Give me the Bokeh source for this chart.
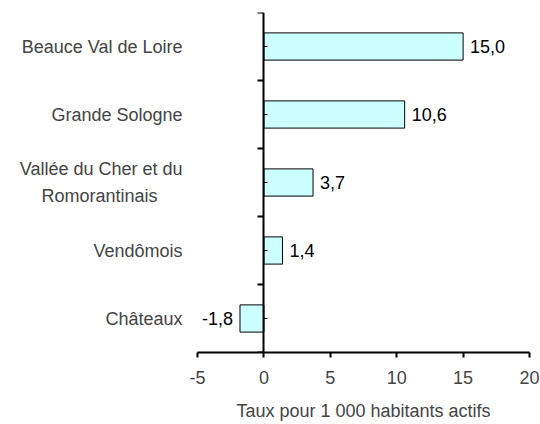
from bokeh.plotting import figure
from bokeh.models import (ColumnDataSource, FixedTicker, LinearAxis, Range1d,
                          CustomJSTickFormatter)
from bokeh.embed import file_html
from bokeh.resources import INLINE
from bokeh.core.properties import value

categories = ["Beauce Val de Loire", "Grande Sologne",
              "Vallée du Cher et du\nRomorantinais", "Vendômois", "Châteaux"]
values = [15.0, 10.6, 3.7, 1.4, -1.8]
x_ticks = [-5, 0, 5, 10, 15, 20]
x_title = "Taux pour 1 000 habitants actifs"

FONT = "Liberation Sans"
FS = "18px"

n = len(categories)
ypos = [n - i - 0.5 for i in range(n)]
labels_txt = [f"{v:.1f}".replace(".", ",") for v in values]
pos = [v >= 0 for v in values]

src = ColumnDataSource(dict(y=ypos, v=values, txt=labels_txt))
src_pos = ColumnDataSource(dict(y=[y for y, p in zip(ypos, pos) if p],
                                v=[v for v, p in zip(values, pos) if p],
                                txt=[t for t, p in zip(labels_txt, pos) if p]))
src_neg = ColumnDataSource(dict(y=[y for y, p in zip(ypos, pos) if not p],
                                v=[v for v, p in zip(values, pos) if not p],
                                txt=[t for t, p in zip(labels_txt, pos) if not p]))

p = figure(width=540, height=424, x_range=Range1d(x_ticks[0], x_ticks[-1]),
           y_range=Range1d(0, n), output_backend="svg", toolbar_location=None,
           min_border_left=197, min_border_right=11, min_border_top=12,
           min_border_bottom=72)
p.outline_line_color = None
p.grid.visible = False
p.background_fill_color = "white"

p.hbar(y="y", left=0, right="v", height=0.4, source=src,
       fill_color="#CCFFFF", line_color="black", line_width=1)

p.text(x="v", y="y", text="txt", source=src_pos, x_offset=7,
       text_align="left", text_baseline="middle",
       text_font=value(FONT), text_font_size=FS, text_color="black")
p.text(x="v", y="y", text="txt", source=src_neg, x_offset=-7,
       text_align="right", text_baseline="middle",
       text_font=value(FONT), text_font_size=FS, text_color="black")

# x axis
xa = p.xaxis[0]
xa.ticker = FixedTicker(ticks=x_ticks)
xa.major_label_overrides = {t: str(t) for t in x_ticks}
xa.axis_line_color = "black"
xa.axis_line_width = 2
xa.major_tick_line_color = "black"
xa.major_tick_line_width = 2
xa.major_tick_in = 0
xa.major_tick_out = 5
xa.minor_tick_line_color = None
xa.major_label_text_font = FONT
xa.major_label_text_font_size = FS
xa.major_label_standoff = 13
xa.axis_label = x_title
xa.axis_label_text_font = FONT
xa.axis_label_text_font_size = FS
xa.axis_label_text_font_style = "normal"
xa.axis_label_standoff = 14


def centred(label):
    # right-aligned multi-line tick labels: pad shorter lines with
    # no-break spaces so that they sit centred under the longest one
    lines = label.split("\n")
    if len(lines) == 1:
        return label
    longest = max(len(l) for l in lines)
    out = []
    for l in lines:
        pad = max(0, round((longest - len(l)) * 0.72))
        out.append(l + "\u00a0" * pad)
    return "\n".join(out)


ya = p.yaxis[0]
ya.ticker = FixedTicker(ticks=ypos)
ya.major_label_overrides = {y: centred(c) for y, c in zip(ypos, categories)}
ya.axis_line_color = None
ya.major_tick_line_color = None
ya.minor_tick_line_color = None
ya.major_tick_in = 0
ya.major_tick_out = 0
ya.major_label_standoff = 15
ya.major_label_text_font = FONT
ya.major_label_text_font_size = FS
ya.major_label_text_line_height = 1.33

# vertical axis line at x = 0 with boundary ticks
za = LinearAxis(fixed_location=0,
                ticker=FixedTicker(ticks=list(range(n + 1)), minor_ticks=ypos),
                formatter=CustomJSTickFormatter(code="return ''"))
za.axis_line_color = "black"
za.axis_line_width = 2
za.major_tick_line_color = "black"
za.major_tick_line_width = 2
za.major_tick_in = 0
za.major_tick_out = 6
za.minor_tick_line_color = "black"
za.minor_tick_line_width = 1
za.minor_tick_in = 4
za.minor_tick_out = 0
p.add_layout(za, "left")

open("out.html", "w").write(file_html(p, INLINE))
